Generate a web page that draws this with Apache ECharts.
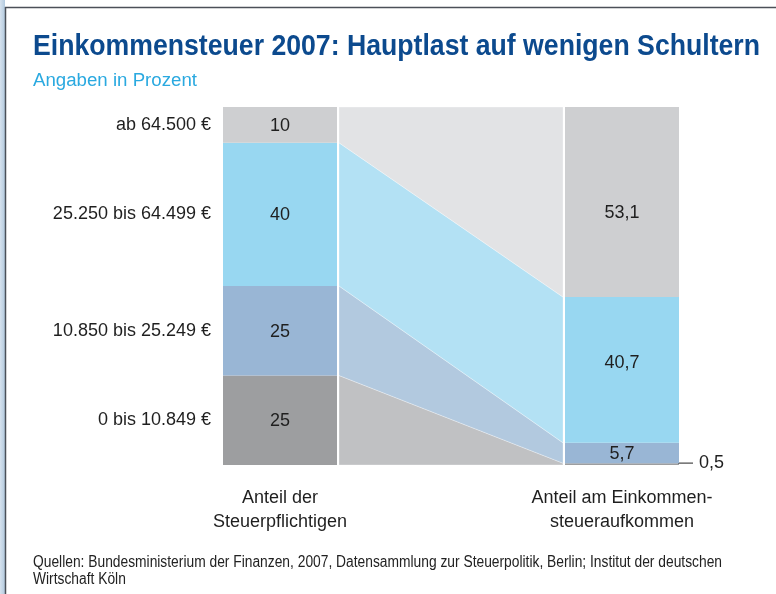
<!DOCTYPE html>
<html>
<head>
<meta charset="utf-8">
<script src="https://cdn.jsdelivr.net/npm/echarts@6/dist/echarts.min.js"></script>
<style>
html,body{margin:0;padding:0;background:#fff;}
#chart{width:776px;height:594px;}
</style>
</head>
<body>
<div id="chart"></div>
<script>
// ---- data ----
const incomeGroups = ['0 bis 10.849 €', '10.850 bis 25.249 €', '25.250 bis 64.499 €', 'ab 64.500 €'];
const taxpayerShare = [25, 25, 40, 10];         // Anteil der Steuerpflichtigen
const taxRevenueShare = [0.5, 5.7, 40.7, 53.1]; // Anteil am Einkommensteueraufkommen
const columnLabels = ['Anteil der\nSteuerpflichtigen', 'Anteil am Einkommen-\nsteueraufkommen'];
const titleText = 'Einkommensteuer 2007: Hauptlast auf wenigen Schultern';
const subtitleText = 'Angaben in Prozent';
const sourceLines = ['Quellen: Bundesministerium der Finanzen, 2007, Datensammlung zur Steuerpolitik, Berlin; Institut der deutschen', 'Wirtschaft Köln'];

// ---- styling / layout ----
const barColors  = ['#9d9ea0', '#99b6d5', '#98d7f1', '#cecfd1'];
const flowColors = ['#c0c1c3', '#b2c9df', '#b3e1f4', '#e2e3e5'];
const rightLabelNudge = [0, 0, -8, 10];
const FONT = '"Liberation Sans", Arial, sans-serif';

function cumulate(arr) {
  const out = []; let s = 0;
  arr.forEach(v => { out.push(s); s += v; });
  return out;
}
const cumLeft = cumulate(taxpayerShare);
const cumRight = cumulate(taxRevenueShare);
const fmt = v => String(v).replace('.', ',');

const mctx = document.createElement('canvas').getContext('2d');
function fitScale(text, font, width) {
  mctx.font = font;
  return width / mctx.measureText(text).width;
}

// x layout (axis units): left column 0..1, flow 1.0175..2.9825, right column 3..4
const L0 = 0, L1 = 1, F0 = 1.0175, F1 = 2.9825, R0 = 3, R1 = 4;

const chart = echarts.init(document.getElementById('chart'), null, {renderer: 'canvas'});

function renderItem(params, api) {
  const i = api.value(0);
  const lb = cumLeft[i], lt = lb + taxpayerShare[i];
  const rb = cumRight[i], rt = rb + taxRevenueShare[i];
  const c = (x, y) => api.coord([x, y]);
  const children = [];
  children.push({
    type: 'polygon',
    shape: {points: [c(F0, lt), c(F1, rt), c(F1, rb), c(F0, lb)]},
    style: {fill: flowColors[i], stroke: 'rgba(255,255,255,0.6)', lineWidth: 0.5}
  });
  const a = c(L0, lt), b = c(L1, lb);
  children.push({type: 'rect', shape: {x: a[0], y: a[1], width: b[0] - a[0], height: b[1] - a[1]},
    style: {fill: barColors[i]}});
  children.push({type: 'text', x: (a[0] + b[0]) / 2, y: (a[1] + b[1]) / 2 + 1,
    style: {text: fmt(taxpayerShare[i]), font: '18px ' + FONT, fill: '#1f1f1f', align: 'center', verticalAlign: 'middle'}});
  children.push({type: 'text', x: a[0] - 12, y: (a[1] + b[1]) / 2,
    style: {text: incomeGroups[i], font: '18px ' + FONT, fill: '#1f1f1f', align: 'right', verticalAlign: 'middle'}});
  const d = c(R0, rt), e = c(R1, rb);
  children.push({type: 'rect', shape: {x: d[0], y: d[1], width: e[0] - d[0], height: e[1] - d[1]},
    style: {fill: barColors[i]}});
  if (taxRevenueShare[i] >= 2) {
    children.push({type: 'text', x: (d[0] + e[0]) / 2, y: (d[1] + e[1]) / 2 + 1 + rightLabelNudge[i],
      style: {text: fmt(taxRevenueShare[i]), font: '18px ' + FONT, fill: '#1f1f1f', align: 'center', verticalAlign: 'middle'}});
  } else {
    const ym = (d[1] + e[1]) / 2 - 1;
    children.push({type: 'line', shape: {x1: e[0] - 1, y1: ym, x2: e[0] + 14, y2: ym},
      style: {stroke: '#222', lineWidth: 1}});
    children.push({type: 'text', x: e[0] + 20, y: ym,
      style: {text: fmt(taxRevenueShare[i]), font: '18px ' + FONT, fill: '#1f1f1f', align: 'left', verticalAlign: 'middle'}});
  }
  return {type: 'group', children};
}

const titleFont = 'bold 29px ' + FONT;
const subFont = '18px ' + FONT;
const srcFont = '16px ' + FONT;
const titleScale = fitScale(titleText, titleFont, 727);
const subScale = fitScale(subtitleText, subFont, 164);
const srcScale = fitScale(sourceLines[0], srcFont, 689);

const option = {
  animation: false,
  grid: {left: 223, right: 97, top: 107, bottom: 129, containLabel: false},
  xAxis: {
    type: 'value', min: 0, max: 4, interval: 0.5,
    axisLine: {show: false}, axisTick: {show: false}, splitLine: {show: false},
    axisLabel: {
      show: true, margin: 21, fontFamily: FONT, fontSize: 18, lineHeight: 24, color: '#1f1f1f',
      formatter: v => (v === 0.5 ? columnLabels[0] : (v === 3.5 ? columnLabels[1] : ''))
    }
  },
  yAxis: {type: 'value', min: 0, max: 100, show: false},
  series: [{
    type: 'custom',
    renderItem: renderItem,
    data: incomeGroups.map((g, i) => [i]),
    encode: {x: -1, y: -1},
    silent: true,
    clip: false
  }],
  graphic: [
    {type: 'rect', shape: {x: 0, y: 0, width: 5, height: 594},
      style: {fill: new echarts.graphic.LinearGradient(0, 0, 1, 0, [{offset: 0, color: '#d6e2ee'}, {offset: 1, color: '#b3cadf'}])}},
    {type: 'line', shape: {x1: 5.5, y1: 7, x2: 5.5, y2: 594}, style: {stroke: '#4b5058', lineWidth: 1.5}},
    {type: 'line', shape: {x1: 5, y1: 7.5, x2: 776, y2: 7.5}, style: {stroke: '#4b5058', lineWidth: 1.5}},
    {type: 'text', x: 33, y: 47, scaleX: titleScale,
      style: {text: titleText, font: titleFont, fill: '#0c4a8e', verticalAlign: 'middle'}},
    {type: 'text', x: 33, y: 81, scaleX: subScale,
      style: {text: subtitleText, font: subFont, fill: '#2aa9e0', verticalAlign: 'middle'}},
    {type: 'text', x: 33, y: 563, scaleX: srcScale,
      style: {text: sourceLines[0], font: srcFont, fill: '#222', verticalAlign: 'middle'}},
    {type: 'text', x: 33, y: 580, scaleX: srcScale,
      style: {text: sourceLines[1], font: srcFont, fill: '#222', verticalAlign: 'middle'}}
  ]
};
chart.setOption(option);
</script>
</body>
</html>
